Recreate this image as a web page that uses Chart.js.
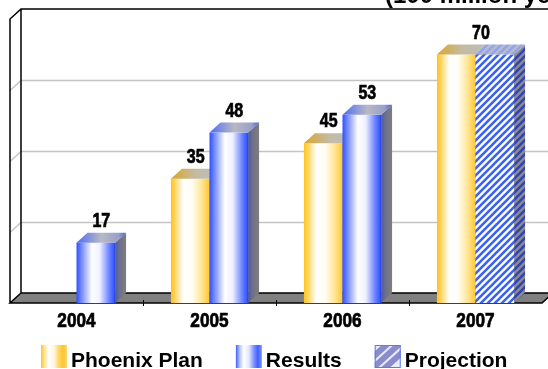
<!DOCTYPE html>
<html>
<head>
<meta charset="utf-8">
<script src="https://cdn.jsdelivr.net/npm/chart.js@4.4.1/dist/chart.umd.min.js"></script>
<style>
  html, body { margin: 0; padding: 0; background: #fff; overflow: hidden; }
</style>
</head>
<body>
<canvas id="myChart" width="548" height="369"></canvas>
<script>
// Sales figures, 100 million yen
const years = ['2004', '2005', '2006', '2007'];
const phoenixPlan = [null, 35, 45, 70];
const results = [17, 48, 53, null];
const projection = [null, null, null, 70];
const seriesNames = ['Phoenix Plan', 'Results', 'Projection'];
const unitTitle = '(100 million yen)';
const gridValues = [20, 40, 60];

// depth of the fake 3D
const DX = 11;
const DY = 10;
const numFont = 'bold 20px "Liberation Sans", Arial, sans-serif';
const yearFont = 'bold 21px "Liberation Sans", Arial, sans-serif';
const textFont = 'bold 21px "Liberation Sans", Arial, sans-serif';

// narrow heavy numbers: squeeze a normal bold face horizontally
function narrowText(ctx, str, cx, baseline, squeeze) {
    ctx.save();
    ctx.translate(cx, baseline);
    ctx.scale(squeeze, 1);
    ctx.textAlign = 'center';
    ctx.textBaseline = 'alphabetic';
    ctx.lineWidth = 0.7;
    ctx.strokeStyle = ctx.fillStyle;
    ctx.fillText(str, 0, 0);
    ctx.strokeText(str, 0, 0);
    ctx.restore();
}

// diagonal stripes for the projected bar
function stripePattern(ctx, bg, fg, width) {
    const s = 7;
    const c = document.createElement('canvas');
    c.width = s; c.height = s;
    const p = c.getContext('2d');
    p.fillStyle = bg;
    p.fillRect(0, 0, s, s);
    p.strokeStyle = fg;
    p.lineWidth = width;
    p.beginPath();
    p.moveTo(-1, s + 1); p.lineTo(s + 1, -1);
    p.moveTo(-1, 1); p.lineTo(1, -1);
    p.moveTo(s - 1, s + 1); p.lineTo(s + 1, s - 1);
    p.stroke();
    return ctx.createPattern(c, 'repeat');
}

function hGrad(ctx, x0, x1, stops) {
    const g = ctx.createLinearGradient(x0, 0, x1, 0);
    stops.forEach(s => g.addColorStop(s[0], s[1]));
    return g;
}

const looks = {
    gold: {
        front: [[0, '#FFC21E'], [0.1, '#FFD45A'], [0.32, '#FFFFFF'], [0.55, '#FFFDF4'], [0.8, '#FFE594'], [1, '#FFC730']],
        top: [[0, '#D9A62A'], [0.5, '#C4BBA4'], [1, '#BDBDBD']],
        side: [[0, '#8A8070'], [1, '#7A7A7A']]
    },
    blue: {
        front: [[0, '#2F50FF'], [0.12, '#6F86FF'], [0.4, '#FFFFFF'], [0.6, '#EEF0FF'], [0.85, '#6A82FF'], [0.96, '#3A5BFF'], [1, '#2440D8']],
        top: [[0, '#4E6CF5'], [0.5, '#B8B8C4'], [0.85, '#9AA0C8'], [1, '#4060E8']],
        side: [[0, '#4D5AA8'], [0.4, '#6E7088'], [1, '#7E7E7E']]
    }
};

function drawBox(ctx, x0, x1, top, bottom, kind) {
    ctx.save();
    // front face
    if (kind === 'hatch') {
        ctx.fillStyle = stripePattern(ctx, '#FFFFFF', '#3A62F4', 2.6);
    } else {
        ctx.fillStyle = hGrad(ctx, x0, x1, looks[kind].front);
    }
    ctx.fillRect(x0, top, x1 - x0, bottom - top);

    // side face
    ctx.beginPath();
    ctx.moveTo(x1, top);
    ctx.lineTo(x1 + DX, top - DY);
    ctx.lineTo(x1 + DX, bottom - DY);
    ctx.lineTo(x1, bottom);
    ctx.closePath();
    ctx.fillStyle = kind === 'hatch'
        ? stripePattern(ctx, '#8A8C9C', '#3445A6', 2.6)
        : hGrad(ctx, x1, x1 + DX, looks[kind].side);
    ctx.fill();

    // top face
    ctx.beginPath();
    ctx.moveTo(x0, top);
    ctx.lineTo(x1, top);
    ctx.lineTo(x1 + DX, top - DY);
    ctx.lineTo(x0 + DX, top - DY);
    ctx.closePath();
    ctx.fillStyle = kind === 'hatch'
        ? stripePattern(ctx, '#B9BBC6', '#8FA4F0', 2.4)
        : hGrad(ctx, x0, x1 + DX, looks[kind].top);
    ctx.fill();
    ctx.restore();
}

const box3d = {
    id: 'box3d',
    beforeDatasetsDraw(chart) {
        const ctx = chart.ctx;
        const a = chart.chartArea;
        const y = chart.scales.y;
        const x = chart.scales.x;
        const W = chart.width;

        ctx.save();
        // floor
        ctx.beginPath();
        ctx.moveTo(a.left, a.bottom);
        ctx.lineTo(a.right, a.bottom);
        ctx.lineTo(a.right + DX, a.bottom - DY);
        ctx.lineTo(a.left + DX, a.bottom - DY);
        ctx.closePath();
        ctx.fillStyle = '#808080';
        ctx.fill();

        // grid on back and left wall
        ctx.strokeStyle = '#C4C4C4';
        ctx.lineWidth = 1.5;
        gridValues.forEach(v => {
            const py = Math.round(y.getPixelForValue(v)) + 0.5;
            ctx.beginPath();
            ctx.moveTo(a.left, py);
            ctx.lineTo(a.left + DX, py - DY);
            ctx.lineTo(W, py - DY);
            ctx.stroke();
        });

        // wall edges
        ctx.strokeStyle = '#000';
        ctx.lineWidth = 1.5;
        ctx.beginPath();
        ctx.moveTo(a.left, a.bottom);
        ctx.lineTo(a.left, a.top);
        ctx.lineTo(a.left + DX, a.top - DY);
        ctx.lineTo(W, a.top - DY);
        ctx.moveTo(a.left + DX, a.top - DY);
        ctx.lineTo(a.left + DX, a.bottom - DY);
        ctx.lineTo(W, a.bottom - DY);
        ctx.moveTo(a.left + DX, a.bottom - DY);
        ctx.lineTo(a.left, a.bottom);
        ctx.lineTo(a.right, a.bottom);
        ctx.lineTo(a.right + DX, a.bottom - DY);
        ctx.stroke();

        // little marks between the years
        ctx.lineWidth = 1;
        for (let i = 1; i < years.length; i++) {
            const px = Math.round((x.getPixelForValue(i - 1) + x.getPixelForValue(i)) / 2) + 0.5;
            ctx.beginPath();
            ctx.moveTo(px, a.bottom - 3);
            ctx.lineTo(px, a.bottom + 3);
            ctx.stroke();
        }

        // bars, left to right so faces overlap properly
        const kinds = ['gold', 'blue', 'hatch'];
        const bars = [];
        chart.data.datasets.forEach((ds, di) => {
            chart.getDatasetMeta(di).data.forEach((el, i) => {
                if (ds.data[i] == null) return;
                const p = el.getProps(['x', 'y', 'base', 'width'], true);
                bars.push({ x0: p.x - p.width / 2, x1: p.x + p.width / 2, top: p.y, bottom: p.base, kind: kinds[di], value: ds.data[i], index: i });
            });
        });
        bars.sort((b1, b2) => b1.x0 - b2.x0);
        bars.forEach(b => drawBox(ctx, b.x0, b.x1, b.top, b.bottom, b.kind));

        // value labels; bars of equal height in one year share a label
        ctx.font = numFont;
        ctx.fillStyle = '#000';
        years.forEach((yr, i) => {
            const inYear = bars.filter(b => b.index === i);
            const done = [];
            inYear.forEach(b => {
                if (done.includes(b.value)) return;
                done.push(b.value);
                const same = inYear.filter(o => o.value === b.value);
                const left = Math.min(...same.map(o => o.x0));
                const right = Math.max(...same.map(o => o.x1));
                narrowText(ctx, String(b.value), (left + right) / 2 + DX / 2, b.top - DY - 6, 0.8);
            });
        });

        // year labels under the floor
        ctx.font = yearFont;
        years.forEach((yr, i) => {
            narrowText(ctx, yr, x.getPixelForValue(i), a.bottom + 24, 0.82);
        });
        ctx.restore();
        return false;
    },
    afterDraw(chart) {
        const ctx = chart.ctx;
        ctx.save();
        // unit title
        ctx.font = 'bold 24px "Liberation Sans", Arial, sans-serif';
        ctx.fillStyle = '#000';
        ctx.textAlign = 'left';
        ctx.textBaseline = 'alphabetic';
        ctx.fillText(unitTitle, 385, 3);

        // legend
        ctx.font = textFont;
        const sw = 26, sh = 23, gap = 4, itemGap = 33;
        const widths = seriesNames.map(n => sw + gap + ctx.measureText(n).width);
        const total = widths.reduce((s, w) => s + w, 0) + itemGap * (seriesNames.length - 1);
        let lx = Math.round((chart.width - total) / 2);
        const top = 345;
        seriesNames.forEach((name, k) => {
            if (k === 0 || k === 1) {
                const stops = k === 0
                    ? [[0, '#FFC52A'], [0.15, '#FFE6A0'], [0.3, '#FFFFFF'], [0.5, '#FFF6E0'], [0.7, '#FFD660'], [0.85, '#FFC52A'], [1, '#FFD870']]
                    : [[0, '#3F5FFF'], [0.15, '#B8C4FF'], [0.3, '#FFFFFF'], [0.5, '#E4E8FF'], [0.7, '#7A90FF'], [0.85, '#3F5FFF'], [1, '#8095FF']];
                ctx.fillStyle = hGrad(ctx, lx, lx + sw, stops);
                ctx.fillRect(lx, top, sw, sh);
            } else {
                ctx.fillStyle = '#E6EAFA';
                ctx.fillRect(lx, top, sw, sh);
                ctx.save();
                ctx.beginPath();
                ctx.rect(lx, top, sw, sh);
                ctx.clip();
                ctx.strokeStyle = '#8A8CCB';
                ctx.lineWidth = 6;
                ctx.beginPath();
                ctx.moveTo(lx - 4, top + sh + 2);
                ctx.lineTo(lx + sw + 2, top - 4);
                ctx.moveTo(lx - 16, top + sh + 2);
                ctx.lineTo(lx + sw - 10, top - 4);
                ctx.moveTo(lx + 8, top + sh + 2);
                ctx.lineTo(lx + sw + 14, top - 4);
                ctx.stroke();
                ctx.restore();
                ctx.strokeStyle = '#5C78F0';
                ctx.lineWidth = 1;
                ctx.strokeRect(lx + 0.5, top + 0.5, sw - 1, sh - 1);
            }
            ctx.fillStyle = '#000';
            ctx.fillText(name, lx + sw + gap, 367);
            lx += widths[k] + itemGap;
        });
        ctx.restore();
    }
};

const ctx = document.getElementById('myChart').getContext('2d');
new Chart(ctx, {
    type: 'bar',
    data: {
        labels: years,
        datasets: [
            { label: seriesNames[0], data: phoenixPlan, stack: 'plan', backgroundColor: '#FFC730' },
            { label: seriesNames[1], data: results, stack: 'actual', backgroundColor: '#3A5BFF' },
            { label: seriesNames[2], data: projection, stack: 'actual', backgroundColor: '#3A62F4' }
        ]
    },
    options: {
        responsive: false,
        animation: false,
        layout: { padding: { left: 10, right: 6, top: 19, bottom: 0 } },
        datasets: { bar: { categoryPercentage: 0.58, barPercentage: 1 } },
        scales: {
            x: {
                stacked: true,
                grid: { display: false },
                border: { display: false },
                ticks: { display: false },
                afterFit(scale) { scale.height = 66; }
            },
            y: {
                stacked: true,
                display: false,
                min: 0,
                max: 80
            }
        },
        plugins: {
            legend: { display: false },
            tooltip: { enabled: false }
        }
    },
    plugins: [box3d]
});
</script>
</body>
</html>
